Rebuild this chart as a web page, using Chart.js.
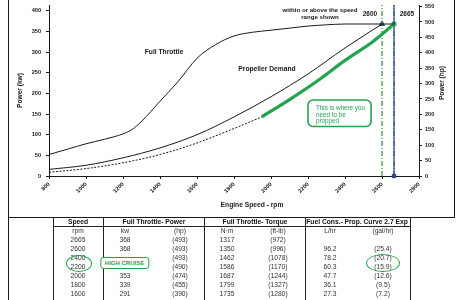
<!DOCTYPE html>
<html><head><meta charset="utf-8">
<script src="https://cdn.jsdelivr.net/npm/chart.js@4/dist/chart.umd.min.js"></script>
<style>
html,body{margin:0;padding:0;background:#fff;}
#wrap{position:relative;width:474px;height:300px;overflow:hidden;font-family:"Liberation Sans",Arial,sans-serif;}
#c{position:absolute;left:0;top:0;}
.t{position:absolute;white-space:nowrap;transform:translate(-50%,-50%);font-size:6.7px;color:#333;line-height:1;}
.h{font-weight:bold;color:#111;}
.vl{position:absolute;width:1px;background:#222;}
.hl{position:absolute;height:1px;background:#222;}
</style></head><body><div id="wrap"><canvas id="c" width="474" height="300"></canvas></div>
<script>
// ---- chart data (kW vs rpm) ----
const fullThrottleRpm = [800,900,1000,1100,1200,1250,1300,1350,1400,1450,1500,1600,1700,1800,1900,2000,2100,2200,2300,2400,2500,2600,2665];
const fullThrottleKw  = [52,65,78,89,102,113,132,156,181,205,230,285,318,339,348,353,358,363,366,368,368,368,368];
const propDemandRpm = [800,1000,1200,1400,1600,1800,2000,2200,2400,2600];
const propDemandKw  = [16,26,44,68,100,143,192,247,310,368];
const propCurveRpm = [800,1000,1200,1400,1600,1800,1950];
const propCurveKw  = [9,18,32,52,80,115,143];
const proppedRpm = [1950,2100,2250,2400,2550,2665];
const proppedKw  = [143,185,230,280,325,368];
const ratedRpm = [2600, 2665];
const ratedKw = [368, 368];
const kwTickLabels = [0,50,100,150,200,250,300,350,400];
const hpTickLabels = [0,50,100,150,200,250,300,350,400,450,500,550];
const rpmTickLabels = [800,1000,1200,1400,1600,1800,2000,2200,2400,2600,2800];

// ---- table data ----
const tableHeaders = ['Speed','Full Throttle- Power','Full Throttle- Torque','Fuel Cons.- Prop. Curve 2.7 Exp'];
const tableUnits = ['rpm','kw','(hp)','N·m','(ft-lb)','L/hr','(gal/hr)'];
const tableRpm  = ['2665','2600','2400','2200','2000','1800','1600'];
const tableKw   = ['368','368','','','353','339','291'];
const tableHp   = ['(493)','(493)','(493)','(490)','(474)','(455)','(390)'];
const tableNm   = ['1317','1350','1462','1586','1687','1799','1735'];
const tableFtlb = ['(972)','(996)','(1078)','(1170)','(1244)','(1327)','(1280)'];
const tableLhr  = ['','96.2','78.2','60.3','47.7','36.1','27.3'];
const tableGal  = ['','(25.4)','(20.7)','(15.9)','(12.6)','(9.5)','(7.2)'];

const KW_MAX = 414, HP_PER_KW = 1.341;
const GREEN = '#22a34d', DGREEN = '#2f8a3c', BLUE = '#2b3d8f', INK = '#1a1a1a';
const pts = (xs, ys) => xs.map((x,i)=>({x, y: ys[i]}));
const tickFont = {family:'"Liberation Sans", Arial, sans-serif', size:5.6, weight:'bold'};
const zeroPad = s => { s.paddingTop=0; s.paddingBottom=0; s.paddingLeft=0; s.paddingRight=0; };
const plain = v => String(v);

const annot = {
  id:'annot',
  afterDraw(chart){
    const ctx = chart.ctx, xs = chart.scales.x, ys = chart.scales.y;
    const px = v => xs.getPixelForValue(v), py = v => ys.getPixelForValue(v);
    ctx.save();
    const F = (w,s)=> `${w} ${s}px "Liberation Sans", Arial, sans-serif`;
    ctx.fillStyle = INK; ctx.textAlign='center'; ctx.textBaseline='middle';
    ctx.font = F('bold',6.7);
    ctx.fillText('Full Throttle', px(1422), py(301));
    ctx.fillText('Propeller Demand', px(1978), py(259));
    ctx.fillText('Engine Speed - rpm', 252, 205);
    ctx.font = F('bold',6.1);
    ctx.fillText('within or above the speed', px(2265), py(402));
    ctx.fillText('range shown', px(2265), py(383));
    ctx.font = F('bold',6.5);
    ctx.fillText('2600', px(2535), py(391));
    ctx.fillText('2665', px(2735), py(391));
    // right axis title
    ctx.save(); ctx.translate(442, 83); ctx.rotate(-Math.PI/2);
    ctx.font = F('bold',6.6); ctx.fillText('Power (hp)', 0, 0); ctx.restore();
    // green callout box
    const bx = px(2200), by = py(184), bw = px(2541)-bx, bh = py(120)-by;
    ctx.beginPath(); ctx.roundRect(bx, by, bw, bh, 5);
    ctx.fillStyle='#fff'; ctx.fill(); ctx.lineWidth=1.6; ctx.strokeStyle=GREEN; ctx.stroke();
    ctx.fillStyle = GREEN; ctx.textAlign='left'; ctx.font = F('normal',6.3);
    ctx.fillText('This is where you', px(2243), py(165));
    ctx.fillText('need to be', px(2243), py(148));
    ctx.fillText('propped', px(2243), py(132));
    // frame lines
    ctx.strokeStyle = INK; ctx.lineWidth = 1;
    ctx.beginPath();
    ctx.moveTo(8.5,0); ctx.lineTo(8.5,300);
    ctx.moveTo(454.5,0); ctx.lineTo(454.5,217);
    ctx.moveTo(8,217.5); ctx.lineTo(455,217.5);
    ctx.stroke();
    ctx.restore();
  }
};

new Chart(document.getElementById('c'), {
  type:'line',
  data:{ datasets:[
    {label:'Full Throttle', data: pts(fullThrottleRpm, fullThrottleKw), borderColor:INK, borderWidth:1, pointRadius:0, cubicInterpolationMode:'monotone'},
    {label:'Propeller Demand', data: pts(propDemandRpm, propDemandKw), borderColor:INK, borderWidth:1, pointRadius:0, cubicInterpolationMode:'monotone'},
    {label:'Prop Curve', data: pts(propCurveRpm, propCurveKw), borderColor:INK, borderWidth:1, borderDash:[2,1.5], pointRadius:0, cubicInterpolationMode:'monotone'},
    {label:'Propped', data: pts(proppedRpm, proppedKw), borderColor:GREEN, borderWidth:3.2, pointRadius:0, cubicInterpolationMode:'monotone'},
    {label:'2600 limit', data: pts([ratedRpm[0],ratedRpm[0]],[0,KW_MAX]), borderColor:DGREEN, borderWidth:1.2, borderDash:[5,2,1,2], pointRadius:0},
    {label:'2665 blue', data: pts([ratedRpm[1],ratedRpm[1]],[0,KW_MAX]), borderColor:BLUE, borderWidth:1.2, pointRadius:0},
    {label:'2665 green', data: pts([ratedRpm[1],ratedRpm[1]],[0,KW_MAX]), borderColor:DGREEN, borderWidth:1.2, borderDash:[5,2,1,2], pointRadius:0},
    {label:'rated 2600', data: pts([ratedRpm[0]],[ratedKw[0]]), pointStyle:'triangle', pointRadius:3, backgroundColor:BLUE, borderColor:BLUE, showLine:false},
    {label:'rated 2665', data: pts([ratedRpm[1]],[ratedKw[1]]), pointStyle:'rect', pointRadius:2.6, backgroundColor:GREEN, borderColor:GREEN, showLine:false},
    {label:'base 2665', data: pts([ratedRpm[1]],[0]), pointStyle:'rect', pointRadius:2.4, backgroundColor:BLUE, borderColor:BLUE, showLine:false}
  ]},
  options:{
    responsive:false, animation:false, clip:false,
    layout:{padding:{left:0,right:0,top:0,bottom:83}},
    plugins:{legend:{display:false}, tooltip:{enabled:false}},
    scales:{
      x:{type:'linear', min:800, max:2800,
        afterBuildTicks: s => { s.ticks = rpmTickLabels.map(v=>({value:v})); },
        afterFit: s => { s.height = 41; zeroPad(s); },
        ticks:{font:tickFont, color:INK, minRotation:45, maxRotation:45, padding:2, autoSkip:false, callback: plain},
        grid:{display:true, drawOnChartArea:false, drawTicks:true, tickLength:3, color:INK},
        border:{display:true, color:INK, width:1}},
      y:{type:'linear', position:'left', min:0, max:KW_MAX,
        afterBuildTicks: s => { s.ticks = kwTickLabels.map(v=>({value:v})); },
        afterFit: s => { s.width = 49; zeroPad(s); },
        ticks:{font:tickFont, color:INK, padding:5, callback: plain},
        grid:{display:true, drawOnChartArea:false, drawTicks:true, tickLength:3, color:INK},
        border:{display:true, color:INK, width:1},
        title:{display:true, text:'Power (kw)', color:INK, font:{family:'"Liberation Sans", Arial, sans-serif', size:6.6, weight:'bold'}, padding:{top:16,bottom:0}}},
      y2:{type:'linear', position:'right', min:0, max:KW_MAX*HP_PER_KW,
        afterBuildTicks: s => { s.ticks = hpTickLabels.map(v=>({value:v})); },
        afterFit: s => { s.width = 55; zeroPad(s); },
        ticks:{font:tickFont, color:INK, padding:3, callback: plain},
        grid:{display:true, drawOnChartArea:false, drawTicks:true, tickLength:3, color:INK},
        border:{display:true, color:INK, width:1}}
    }
  },
  plugins:[annot]
});

// ---- table (HTML overlay) ----
const wrap = document.getElementById('wrap');
function add(cls, style, text){ const d=document.createElement('div'); d.className=cls; Object.assign(d.style, style); if(text!==undefined) d.textContent=text; wrap.appendChild(d); return d; }
const colLines = [53,103,204,305,410];
colLines.forEach(x => add('vl', {left:x+'px', top:'217px', height:'83px'}));
add('hl', {left:'53px', top:'226px', width:'358px'});
const headerX = [78,154,255,357];
tableHeaders.forEach((h,i)=> add('t h', {left:headerX[i]+'px', top:'222px'}, h));
const colX = [78,125,180,227,278,330,383];
tableUnits.forEach((u,i)=> add('t', {left:colX[i]+'px', top:'231px'}, u));
const cols = [tableRpm, tableKw, tableHp, tableNm, tableFtlb, tableLhr, tableGal];
for (let r=0; r<tableRpm.length; r++) {
  cols.forEach((col,i)=>{ if(col[r]) add('t', {left:colX[i]+'px', top:(240+r*9)+'px'}, col[r]); });
}
// highlights
add('', {position:'absolute', left:'66px', top:'255px', width:'24px', height:'15px', border:'1.6px solid '+GREEN, borderRadius:'50%'});
add('', {position:'absolute', left:'366px', top:'254px', width:'32px', height:'16px', border:'1.6px solid '+GREEN, borderRadius:'50%'});
const hc = add('t', {left:'124.5px', top:'263px', transform:'translate(-50%,-50%)', border:'1.6px solid '+GREEN, borderRadius:'3px', background:'#fff', color:GREEN, fontWeight:'bold', fontSize:'6px', padding:'2px 4px'}, 'HIGH CRUISE');
</script></body></html>
